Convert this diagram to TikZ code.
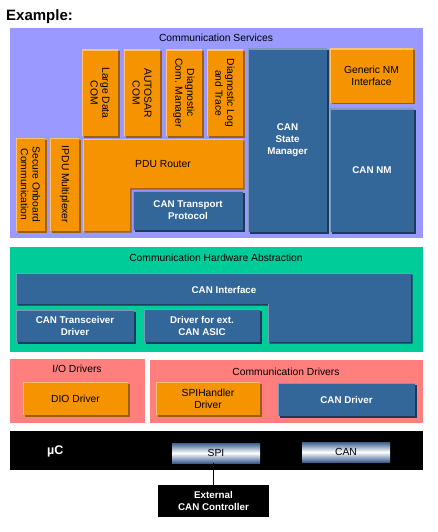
\documentclass[tikz,border=0pt]{standalone}
\usepackage{fontspec}
\setmainfont{Liberation Sans}
\usetikzlibrary{shadows}
\definecolor{lav}{HTML}{9999FF}
\definecolor{orC}{HTML}{F59300}
\definecolor{orS}{HTML}{9C6000}
\definecolor{orL}{HTML}{FFC070}
\definecolor{blC}{HTML}{336699}
\definecolor{blS}{HTML}{1E3A5A}
\definecolor{blL}{HTML}{7A99BB}
\definecolor{grn}{HTML}{00CC99}
\definecolor{pnk}{HTML}{FF7F7F}
\definecolor{grB}{HTML}{3D5F8F}
\newcommand\fReg{\fontsize{10.3}{11.8}\selectfont}
\newcommand\fBld{\fontsize{9.8}{12}\selectfont\bfseries}
\begin{document}
\begin{tikzpicture}[x=1pt,y=-1pt,
 hl/.style={path picture={\draw[line width=2pt,#1] (path picture bounding box.south west) -- (path picture bounding box.north west) -- (path picture bounding box.north east);}},
 shd/.style={drop shadow={shadow xshift=1.5pt,shadow yshift=-1.5pt,opacity=1,fill=#1}},
 obox/.style={rectangle, fill=orC, shd=orS, hl=orL, inner sep=0pt, text=black, font=\fReg, align=center},
 bbox/.style={rectangle, fill=blC, shd=blS, hl=blL, inner sep=0pt, text=white, font=\fBld, align=center},
 layer/.style={rectangle, inner sep=0pt, draw=none},
 ttl/.style={font=\fReg, text=black, inner sep=0pt},
 rt/.style={rotate=-90, align=center, font=\fReg, text=black, inner sep=0pt},
 port/.style={rectangle, inner sep=0pt, top color=grB, bottom color=grB, middle color=white, font=\fReg, text=black, minimum width=88pt, minimum height=20pt},
]
\useasboundingbox (0,0) rectangle (437,532);
\node[anchor=base west, font=\fontsize{15}{18}\selectfont\bfseries, inner sep=0pt] (ex) at (6,21) {Example:};

% Communication Services
\node[layer, fill=lav, minimum width=413pt, minimum height=210pt] (cs) at (216.5,133) {};
\node[ttl] (cst) at (216,38) {Communication Services};
\node[obox, minimum width=36pt, minimum height=86pt] (ldc) at (100,93) {};
\node[rt] (ldct) at (ldc) {Large Data\\COM};
\node[obox, minimum width=36pt, minimum height=86pt] (asc) at (142,93) {};
\node[rt] (asct) at (asc) {AUTOSAR\\COM};
\node[obox, minimum width=36pt, minimum height=86pt] (dcm) at (184,93) {};
\node[rt] (dcmt) at (dcm) {Diagnostic\\Com. Manager};
\node[obox, minimum width=36pt, minimum height=86pt] (dlt) at (225,93) {};
\node[rt] (dltt) at (dlt) {Diagnostic Log\\and Trace};
\node[bbox, minimum width=79pt, minimum height=183pt] (csm) at (287.5,140.5) {CAN\\State\\Manager};
\node[obox, minimum width=83pt, minimum height=54pt] (gnm) at (371.5,76) {Generic NM\\Interface};
\node[bbox, minimum width=84pt, minimum height=123pt] (cnm) at (372,170.5) {CAN NM};
\node[obox, minimum width=29pt, minimum height=93pt] (sec) at (30.5,184.5) {};
\node[rt] (sect) at (sec) {Secure Onboard\\Communication};
\node[obox, minimum width=29pt, minimum height=93pt] (ipdu) at (64.5,184.5) {};
\node[rt] (ipdut) at (ipdu) {IPDU Multiplexer};
\path[fill=orC, shd=orS] (83,139) -- (243,139) -- (243,188) -- (130,188) -- (130,231) -- (83,231) -- cycle;
\draw[orL, line width=1pt] (83.5,231) -- (83.5,139.5) -- (243,139.5);
\node[ttl] (pdu) at (163,164) {PDU Router};
\node[bbox, minimum width=110pt, minimum height=39pt] (ctp) at (188,210.5) {CAN Transport\\Protocol};

% Communication Hardware Abstraction
\node[layer, fill=grn, minimum width=413pt, minimum height=105pt] (cha) at (216.5,299.5) {};
\node[ttl] (chat) at (216,258) {Communication Hardware Abstraction};
\path[fill=blC, shd=blS] (16,273) -- (411,273) -- (411,342) -- (268,342) -- (268,304) -- (16,304) -- cycle;
\draw[blL, line width=1pt] (16.5,304) -- (16.5,273.5) -- (411,273.5);
\draw[blL, line width=1pt] (268.5,342) -- (268.5,304);
\node[ttl, text=white, font=\fBld] (cif) at (224,290) {CAN Interface};
\node[bbox, minimum width=118pt, minimum height=32pt] (ctd) at (75,326) {CAN Transceiver\\Driver};
\node[bbox, minimum width=116pt, minimum height=33pt] (dea) at (202,325.5) {Driver for ext.\\CAN ASIC};

% Drivers
\node[layer, fill=pnk, minimum width=135pt, minimum height=64pt] (io) at (77.5,391) {};
\node[ttl] (iot) at (77,369) {I/O Drivers};
\node[layer, fill=pnk, minimum width=273pt, minimum height=63pt] (cd) at (286.5,391.5) {};
\node[ttl] (cdt) at (286,372) {Communication Drivers};
\node[obox, minimum width=105pt, minimum height=33pt] (dio) at (75.5,398.5) {DIO Driver};
\node[obox, minimum width=104pt, minimum height=33pt] (spih) at (208,398.5) {SPIHandler\\Driver};
\node[bbox, minimum width=137pt, minimum height=33pt] (cdrv) at (346.5,399.5) {CAN Driver};

% microcontroller
\node[layer, fill=black, minimum width=413pt, minimum height=39pt] (mc) at (216.5,450.5) {};
\node[anchor=west, text=white, font=\fontsize{12.5}{14}\selectfont\bfseries, inner sep=0pt] (mct) at (47,451) {µC};
\node[port] (spi) at (216,453) {SPI};
\node[port] (can) at (346,452) {CAN};
\node[rectangle, fill=black, text=white, font=\fBld, align=center, minimum width=111pt, minimum height=32pt, inner sep=0pt] (ext) at (213.5,501) {External\\CAN Controller};
\draw[black, line width=0.8pt] (spi.south -| ext.north) -- (ext.north);
\end{tikzpicture}
\end{document}
